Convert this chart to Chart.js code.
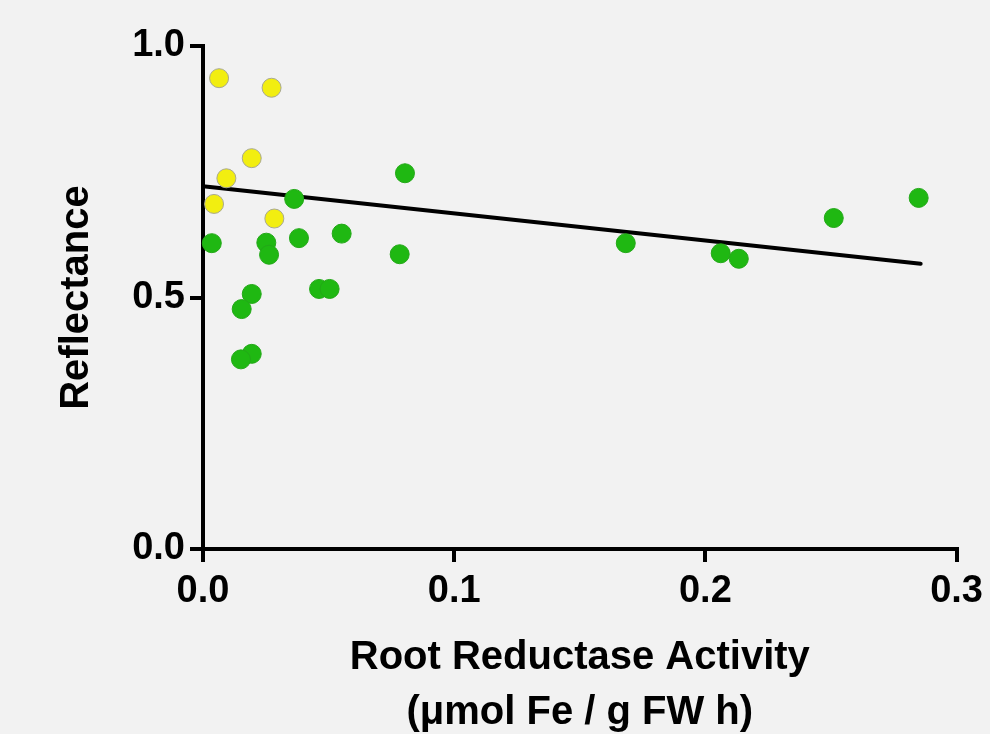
<!DOCTYPE html>
<html>
<head>
<meta charset="utf-8">
<title>Reflectance vs Root Reductase Activity</title>
<script src="https://cdn.jsdelivr.net/npm/chart.js@4.4.1/dist/chart.umd.min.js"></script>
<style>
    html, body { margin: 0; padding: 0; background: #f2f2f2; }
    #wrap { width: 990px; height: 734px; }
</style>
</head>
<body>
<div id="wrap"><canvas id="rr-chart" width="990" height="734"></canvas></div>
<script>
// Data dibaca dari gambar referensi
const yellowX = [0.0064, 0.0273, 0.0194, 0.0093, 0.0044, 0.0284];
const yellowY = [0.936, 0.917, 0.777, 0.737, 0.686, 0.657];

const greenX = [0.0363, 0.0035, 0.0252, 0.0263, 0.0382, 0.0552, 0.0462, 0.0504, 0.0194, 0.0154,
    0.0194, 0.0151, 0.0804, 0.0783, 0.1683, 0.2061, 0.2133, 0.2511, 0.2849];
const greenY = [0.696, 0.608, 0.609, 0.585, 0.618, 0.627, 0.517, 0.517, 0.507, 0.477,
    0.388, 0.377, 0.747, 0.586, 0.608, 0.588, 0.577, 0.658, 0.698];

// garis regresi (ujung kiri dan kanan)
const fitX = [0, 0.2857];
const fitY = [0.721, 0.567];

const xTicks = [0, 0.1, 0.2, 0.3];
const yTicks = [0, 0.5, 1.0];

const toPoints = (xs, ys) => xs.map((x, i) => ({ x, y: ys[i] }));

const FONT = "'Liberation Sans', Arial, Helvetica, sans-serif";

function axisOptions(min, max, ticks) {
    return {
        type: 'linear',
        min,
        max,
        afterBuildTicks: (scale) => { scale.ticks = ticks.map((v) => ({ value: v })); },
        grid: {
            display: true,
            drawOnChartArea: false,
            drawTicks: true,
            tickLength: 13,
            tickWidth: 4,
            tickColor: '#000',
            color: '#000',
            lineWidth: 4,
        },
        border: { display: true, color: '#000', width: 4 },
        ticks: {
            color: '#000',
            font: { family: FONT, size: 38, weight: 'bold' },
            callback: (v) => Number(v).toFixed(1),
        },
    };
}

const xAxis = axisOptions(0, 0.3, xTicks);
xAxis.ticks.padding = 7;
xAxis.ticks.maxRotation = 0;
xAxis.afterFit = (scale) => { scale.height = 185; };
xAxis.title = {
    display: true,
    text: ['Root Reductase Activity', '(\u03bcmol Fe / g FW h)'],
    color: '#000',
    font: { family: FONT, size: 40, weight: 'bold', lineHeight: 1.375 },
    padding: { top: 0, bottom: -6 },
};

const yAxis = axisOptions(0, 1.0, yTicks);
yAxis.ticks.padding = 5;
yAxis.afterFit = (scale) => { scale.width = 203; };
yAxis.title = {
    display: true,
    text: 'Reflectance',
    color: '#000',
    font: { family: FONT, size: 40, weight: 'bold', lineHeight: 1.2 },
    padding: { top: 53, bottom: 0 },
};

new Chart(document.getElementById('rr-chart'), {
    type: 'scatter',
    data: {
        datasets: [
            {
                label: 'Yellow',
                data: toPoints(yellowX, yellowY),
                pointRadius: 9.5,
                pointBackgroundColor: '#f2ee10',
                pointBorderColor: '#a8a890',
                pointBorderWidth: 1,
                clip: false,
                order: 1,
            },
            {
                label: 'Green',
                data: toPoints(greenX, greenY),
                pointRadius: 9.5,
                pointBackgroundColor: '#1fb812',
                pointBorderColor: '#23a818',
                pointBorderWidth: 1,
                clip: false,
                order: 2,
            },
            {
                type: 'line',
                label: 'Fit',
                data: toPoints(fitX, fitY),
                borderColor: '#000',
                borderWidth: 4,
                borderCapStyle: 'round',
                pointRadius: 0,
                fill: false,
                clip: false,
                order: 3,
            },
        ],
    },
    options: {
        responsive: false,
        animation: false,
        layout: { padding: { left: 0, top: 46, right: 32, bottom: 0 } },
        plugins: { legend: { display: false }, tooltip: { enabled: false } },
        scales: { x: xAxis, y: yAxis },
    },
});
</script>
</body>
</html>
